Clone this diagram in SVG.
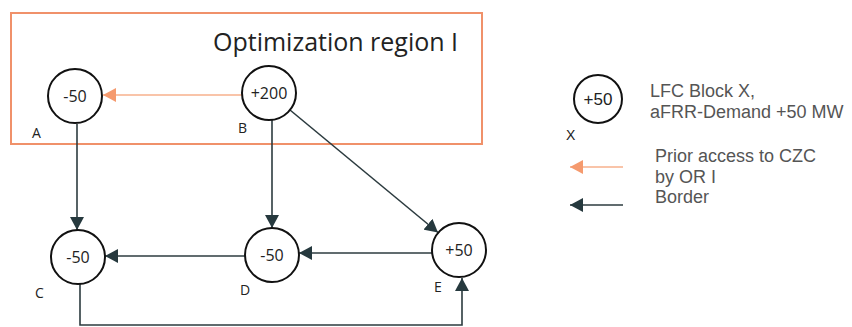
<svg xmlns="http://www.w3.org/2000/svg" width="852" height="327" viewBox="0 0 852 327">
<style>
.node circle{fill:#fff;stroke:#111;stroke-width:2}
.val{font-family:"Open Sans","Liberation Sans",sans-serif;font-size:16px;fill:#222;text-anchor:middle}
.lbl{font-family:"Open Sans","Liberation Sans",sans-serif;font-size:14px;fill:#222}
.leg{font-family:"Liberation Sans",Arial,sans-serif;font-size:18px;fill:#555}
.dark{stroke:#2c3b3f;stroke-width:1.6;fill:none}
.org{stroke:#f7b08c;stroke-width:1.6;fill:none}
</style>
<defs>
<marker id="ad" viewBox="0 0 13 14" refX="13" refY="7" markerWidth="13" markerHeight="14" orient="auto" markerUnits="userSpaceOnUse"><path d="M0,0 L13,7 L0,14 z" fill="#26393e"/></marker>
<marker id="ao" viewBox="0 0 13 14" refX="13" refY="7" markerWidth="13" markerHeight="14" orient="auto" markerUnits="userSpaceOnUse"><path d="M0,0 L13,7 L0,14 z" fill="#f59a6e"/></marker>
</defs>
<g id="region">
<rect x="11" y="13" width="471" height="131" fill="none" stroke="#f0916a" stroke-width="2"/>
<text x="213" y="51" font-family="'Open Sans','Liberation Sans',sans-serif" font-size="25" fill="#222">Optimization region I</text>
</g>
<g id="connectors">
<line class="org" x1="243" y1="95" x2="103" y2="95" marker-end="url(#ao)"/>
<line class="dark" x1="77" y1="124" x2="77" y2="230" marker-end="url(#ad)"/>
<line class="dark" x1="272" y1="120" x2="272" y2="228" marker-end="url(#ad)"/>
<line class="dark" x1="290" y1="110" x2="438" y2="232.5" marker-end="url(#ad)"/>
<line class="dark" x1="432" y1="253" x2="299" y2="253" marker-end="url(#ad)"/>
<line class="dark" x1="245" y1="256" x2="105" y2="256" marker-end="url(#ad)"/>
<path class="dark" d="M80,284 V325 H462 V278" marker-end="url(#ad)"/>
</g>
<g id="A" class="node"><circle cx="75" cy="96" r="27"/><text class="val" x="75" y="102">-50</text><text class="lbl" x="32" y="138">A</text></g>
<g id="B" class="node"><circle cx="269" cy="93" r="27"/><text class="val" x="269" y="99">+200</text><text class="lbl" x="238" y="133">B</text></g>
<g id="C" class="node"><circle cx="78" cy="257" r="27"/><text class="val" x="78" y="263">-50</text><text class="lbl" x="35" y="298">C</text></g>
<g id="D" class="node"><circle cx="272" cy="255" r="27"/><text class="val" x="272" y="261">-50</text><text class="lbl" x="240" y="295">D</text></g>
<g id="E" class="node"><circle cx="459" cy="250" r="27"/><text class="val" x="459" y="256">+50</text><text class="lbl" x="434" y="292">E</text></g>
<g id="legend">
<g id="legend-node" class="node"><circle cx="598" cy="99" r="24"/><text x="598" y="105" text-anchor="middle" font-family="'Liberation Sans',sans-serif" font-size="17" fill="#222">+50</text><text x="566" y="140" font-family="'Liberation Sans',sans-serif" font-size="14" fill="#222">X</text></g>
<text class="leg" x="650" y="97">LFC Block X,</text>
<text class="leg" x="650" y="118">aFRR-Demand +50 MW</text>
<line class="org" x1="623" y1="167" x2="570" y2="167" marker-end="url(#ao)"/>
<text class="leg" x="655" y="162">Prior access to CZC</text>
<text class="leg" x="655" y="183">by OR I</text>
<line class="dark" x1="623" y1="205" x2="570" y2="205" marker-end="url(#ad)"/>
<text class="leg" x="655" y="203">Border</text>
</g>
</svg>
